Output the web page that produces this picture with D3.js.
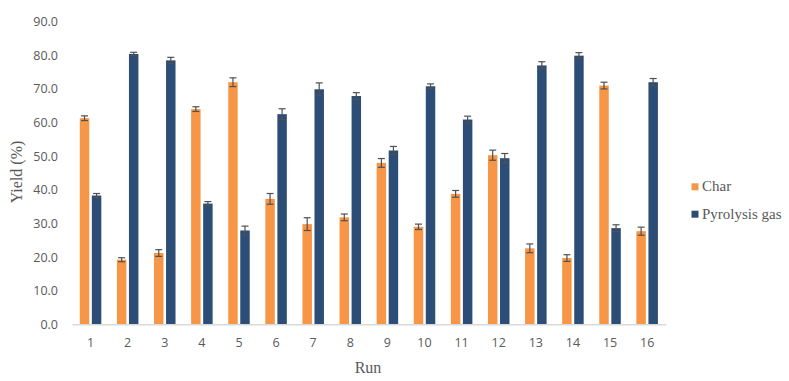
<!DOCTYPE html>
<html>
<head>
<meta charset="utf-8">
<script src="https://cdn.jsdelivr.net/npm/d3@7"></script>
<style>
  html, body { margin: 0; padding: 0; background: #ffffff; }
  svg { display: block; }
</style>
</head>
<body>
<svg id="chart" width="789" height="381"></svg>
<script>
const runs = ["1","2","3","4","5","6","7","8","9","10","11","12","13","14","15","16"];
const seriesNames = ["Char", "Pyrolysis gas"];
const charValues = [61.3, 19.2, 21.2, 64.0, 72.0, 37.3, 29.8, 31.8, 48.0, 29.0, 38.8, 50.3, 22.6, 19.7, 71.0, 27.7];
const charErrors = [0.7, 0.6, 1.0, 0.7, 1.3, 1.6, 1.9, 1.0, 1.3, 0.8, 1.0, 1.5, 1.3, 1.0, 1.0, 1.2];
const gasValues = [38.3, 80.4, 78.5, 35.9, 27.9, 62.5, 69.9, 67.9, 51.7, 70.8, 60.9, 49.4, 77.0, 79.9, 28.6, 72.0];
const gasErrors = [0.6, 0.5, 0.9, 0.6, 1.3, 1.6, 1.9, 1.0, 1.2, 0.7, 1.0, 1.4, 1.1, 0.9, 1.0, 1.1];
const yTicks = [0, 10, 20, 30, 40, 50, 60, 70, 80, 90];
const colors = ["#F79646", "#2C4D76"];

const svg = d3.select("#chart");
const x0 = 72, x1 = 665.7, yBase = 324.3, yTop = 21.7;

const x = d3.scaleBand().domain(runs).range([x0, x1]).padding(0);
const xs = d3.scaleBand().domain(seriesNames).range([-10.75, 10.75]).paddingInner(0.214);
const y = d3.scaleLinear().domain([0, 90]).range([yBase, yTop]);

// y axis labels
const yAxis = d3.axisLeft(y).tickValues(yTicks).tickFormat(d3.format(".1f")).tickSize(0).tickPadding(0);
const gy = svg.append("g").attr("transform", "translate(58,0)").call(yAxis);
gy.select(".domain").remove();
gy.selectAll("text")
  .attr("fill", "#595959")
  .style("font-family", "'Open Sans', 'Liberation Sans', sans-serif")
  .style("font-size", "12.5px");

// bars
const series = [
  { name: seriesNames[0], values: charValues, errors: charErrors, color: colors[0] },
  { name: seriesNames[1], values: gasValues, errors: gasErrors, color: colors[1] }
];

series.forEach(s => {
  const g = svg.append("g");
  g.selectAll("rect")
    .data(runs.map((r, i) => ({ r, v: s.values[i], e: s.errors[i] })))
    .join("rect")
    .attr("x", d => x(d.r) + x.bandwidth() / 2 + xs(s.name))
    .attr("width", xs.bandwidth())
    .attr("y", d => y(d.v))
    .attr("height", d => y(0) - y(d.v))
    .attr("fill", s.color);
});

// x axis
const xAxis = d3.axisBottom(x).tickSize(0).tickPadding(14);
const gx = svg.append("g").attr("transform", `translate(0,${yBase})`).call(xAxis);
gx.select(".domain").attr("stroke", "#d9d9d9").attr("stroke-width", 1.5);
gx.selectAll("text")
  .attr("fill", "#595959")
  .style("font-family", "'Open Sans', 'Liberation Sans', sans-serif")
  .style("font-size", "12.5px");

// error bars
series.forEach(s => {
  const g = svg.append("g").attr("stroke", "#505050").attr("stroke-width", 1.2).attr("fill", "none");
  runs.forEach((r, i) => {
    const cx = x(r) + x.bandwidth() / 2 + xs(s.name) + xs.bandwidth() / 2;
    const hi = y(s.values[i] + s.errors[i]);
    const lo = y(s.values[i] - s.errors[i]);
    g.append("line").attr("x1", cx).attr("x2", cx).attr("y1", hi).attr("y2", lo);
    g.append("line").attr("x1", cx - 3.5).attr("x2", cx + 3.5).attr("y1", hi).attr("y2", hi);
    g.append("line").attr("x1", cx - 3.5).attr("x2", cx + 3.5).attr("y1", lo).attr("y2", lo);
  });
});

// axis titles
svg.append("text")
  .attr("transform", "translate(22,172) rotate(-90)")
  .attr("text-anchor", "middle")
  .attr("fill", "#595959")
  .style("font-family", "'Liberation Serif', 'Times New Roman', serif")
  .style("font-size", "16px")
  .text("Yield (%)");

svg.append("text")
  .attr("x", 368)
  .attr("y", 373)
  .attr("text-anchor", "middle")
  .attr("fill", "#595959")
  .style("font-family", "'Liberation Serif', 'Times New Roman', serif")
  .style("font-size", "16px")
  .text("Run");

// legend
const legend = svg.append("g");
seriesNames.forEach((name, i) => {
  const ly = 183.3 + i * 27.4;
  legend.append("rect").attr("x", 691.5).attr("y", ly).attr("width", 7).attr("height", 7).attr("fill", colors[i]);
  legend.append("text")
    .attr("x", 702).attr("y", ly + 8)
    .attr("fill", "#595959")
    .style("font-family", "'Liberation Serif', 'Times New Roman', serif")
    .style("font-size", "15px")
    .text(name);
});
</script>
</body>
</html>
